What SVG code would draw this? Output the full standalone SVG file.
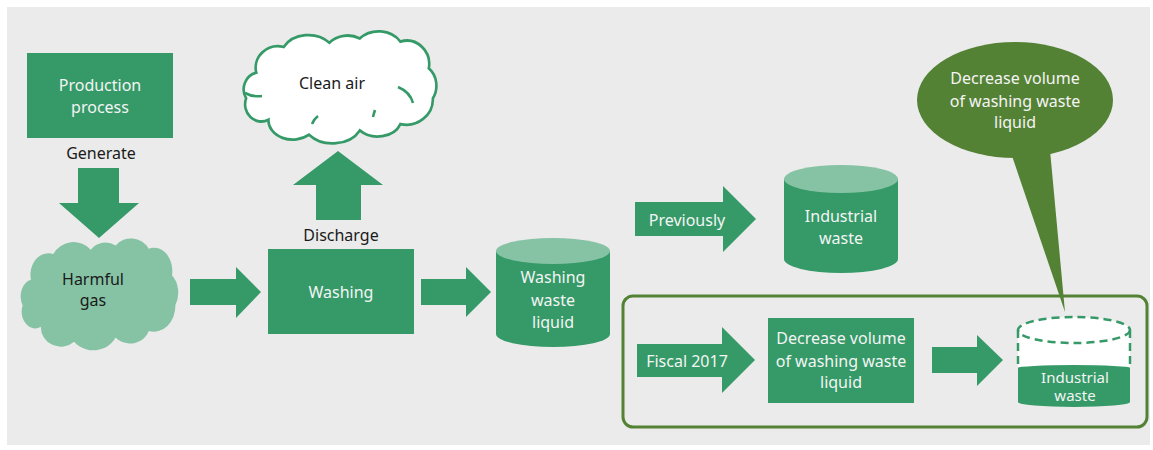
<svg xmlns="http://www.w3.org/2000/svg" width="1153" height="450" viewBox="0 0 1153 450">
<defs>
<style>
.g{fill:#359a68}
.lg{fill:#86c3a5}
.ol{fill:#548235}
.t{font-family:"Noto Sans","Liberation Sans",sans-serif;font-size:16px;text-anchor:middle}
.s{font-size:15px}
.w{fill:#f4f4f4}
.d{fill:#1a1a1a}
</style>
<path id="cloud" d="M18,38 A22,20 0 0 1 45,14 A28,22 0 0 1 90,10 A24,20 0 0 1 120,6 A26,22 0 0 1 160,9 A22,22 0 0 1 188,34 A18,20 0 0 1 192,62 A26,24 0 0 1 160,86 A24,18 0 0 1 120,92 A30,22 0 0 1 70,96 A24,18 0 0 1 30,82 A16,16 0 0 1 8,62 A16,16 0 0 1 18,38 Z"/>
</defs>
<rect x="0" y="0" width="1153" height="450" fill="#ffffff"/>
<rect x="7" y="7" width="1143" height="438" fill="#ebebeb"/>

<g id="connectors">
<polygon class="g" points="78,168 119,168 119,203 139,203 99,238 59,203 78,203"/>
<polygon class="g" points="316,220 361,220 361,185 383,185 338,151 293,185 316,185"/>
<polygon class="g" points="190,279 236,279 236,267 261,292 236,318 236,305 190,305"/>
<polygon class="g" points="421,279 466,279 466,267 491,292 466,317 466,305 421,305"/>
<polygon class="g" points="635,202 723,202 723,186 756,219 723,252 723,236 635,236"/>
<polygon class="g" points="637,344 722,344 722,327 755,360 722,393 722,377 637,377"/>
<polygon class="g" points="932,347 977,347 977,335 1003,360 977,386 977,373 932,373"/>
<text class="t d" x="101" y="159">Generate</text>
<text class="t d" x="341" y="241">Discharge</text>
<text class="t w" x="687" y="226">Previously</text>
<text class="t w" x="687" y="367">Fiscal 2017</text>
</g>

<g id="group-box">
<rect x="623" y="296" width="524" height="131" rx="10" fill="none" stroke="#548235" stroke-width="3"/>
</g>

<g id="production">
<rect class="g" x="27" y="53" width="146" height="85"/>
<text class="t w" x="100" y="91">Production</text>
<text class="t w" x="100" y="113">process</text>
</g>

<g id="harmful-gas">
<use href="#cloud" class="lg" transform="translate(16,239) scale(0.83,1.07)"/>
<text class="t d" x="93" y="285">Harmful</text>
<text class="t d" x="93" y="306">gas</text>
</g>

<g id="clean-air">
<use href="#cloud" fill="#ffffff" stroke="#359a68" stroke-width="2.6" vector-effect="non-scaling-stroke" transform="translate(238,32) scale(1.015,1.07)"/>
<g fill="none" stroke="#359a68" stroke-width="2.6">
<path d="M245,93 Q252,97 262,96"/>
<path d="M398,87 Q410,92 413,103"/>
<path d="M312,124 Q314,119 318,116"/>
<path d="M373,117 Q374,113 375,110"/>
</g>
<text class="t d" x="332" y="89">Clean air</text>
</g>

<g id="washing">
<rect class="g" x="268" y="249" width="146" height="85"/>
<text class="t w" x="341" y="298">Washing</text>
</g>

<g id="washing-waste-liquid">
<path class="g" d="M496,251 V334 A57,13 0 0 0 610,334 V251 Z"/>
<ellipse class="lg" cx="553" cy="251" rx="57" ry="13"/>
<text class="t w" x="553" y="283">Washing</text>
<text class="t w" x="553" y="306">waste</text>
<text class="t w" x="553" y="328">liquid</text>
</g>

<g id="industrial-waste-prev">
<path class="g" d="M784,179 V259 A57,14 0 0 0 898,259 V179 Z"/>
<ellipse class="lg" cx="841" cy="179" rx="57" ry="14"/>
<text class="t w" x="841" y="222">Industrial</text>
<text class="t w" x="841" y="244">waste</text>
</g>

<g id="decrease-box">
<rect class="g" x="768" y="318" width="146" height="85"/>
<text class="t w" x="841" y="344">Decrease volume</text>
<text class="t w" x="841" y="367">of washing waste</text>
<text class="t w" x="841" y="388">liquid</text>
</g>

<g id="industrial-waste-new">
<path fill="#ffffff" d="M1018,330 V368 H1130 V330 Z"/>
<ellipse cx="1074" cy="330" rx="56" ry="13" fill="#ffffff"/>
<path class="g" d="M1018,368 A56,3 0 0 1 1130,368 V402 A56,5 0 0 1 1018,402 Z"/>
<g fill="none" stroke="#359a68" stroke-width="2.5" stroke-dasharray="8,5">
<ellipse cx="1074" cy="330" rx="56" ry="13"/>
<path d="M1018,330 V367"/>
<path d="M1130,330 V367"/>
</g>
<text class="t s w" x="1075" y="383">Industrial</text>
<text class="t s w" x="1075" y="401">waste</text>
</g>

<g id="callout">
<polygon class="ol" points="1010,150 1065,312 1050,150"/>
<ellipse class="ol" cx="1015" cy="100" rx="98" ry="58"/>
<text class="t w" x="1015" y="84">Decrease volume</text>
<text class="t w" x="1015" y="107">of washing waste</text>
<text class="t w" x="1015" y="128">liquid</text>
</g>
</svg>
